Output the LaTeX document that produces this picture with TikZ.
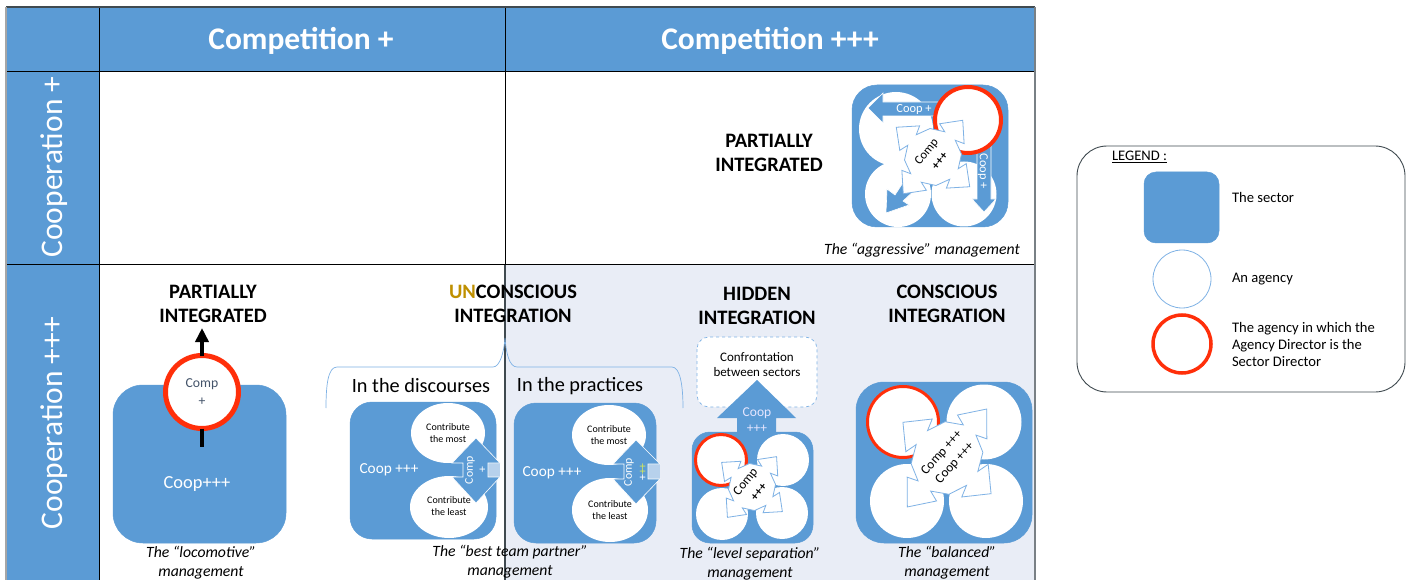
\documentclass[tikz,border=0pt]{standalone}
\usepackage{fontspec}
\setmainfont{Carlito}
\usetikzlibrary{arrows.meta}
\definecolor{secblue}{HTML}{5B9BD5}
\definecolor{lineblue}{HTML}{7FB2E5}
\definecolor{palefill}{HTML}{E9EDF6}
\definecolor{redring}{HTML}{FF2F0A}
\definecolor{darkline}{HTML}{404A50}
\definecolor{unGold}{HTML}{BF9000}
\definecolor{slate}{HTML}{44546A}
\definecolor{plusyellow}{HTML}{D6E85A}
\definecolor{notchfill}{HTML}{B7D1EC}
\tikzset{
  txt/.style={inner sep=0pt,outer sep=0pt,align=center},
  headtxt/.style={txt,font=\bfseries\fontsize{20.5}{22}\selectfont},
  captxt/.style={txt,font=\itshape\fontsize{15.7}{18}\selectfont},
  legtxt/.style={txt,anchor=west,font=\fontsize{14.6}{16}\selectfont},
  smalltxt/.style={txt,font=\fontsize{10}{12}\selectfont},
  whitetxt/.style={txt,text=white},
  sectorbox/.style={fill=secblue,draw=secblue,line width=.5pt},
  agency/.style={circle,fill=white,inner sep=0pt,outer sep=0pt},
  redagency/.style={circle,fill=white,draw=redring,inner sep=0pt,outer sep=0pt},
  flowarrow/.style={fill=secblue,draw=white,line width=.6pt,line join=miter},
  braceline/.style={draw=lineblue,line width=.7pt},
}
\newcommand{\quadcross}[4]{%
  \begin{scope}[shift={(#1,#2)},rotate=51,xscale=#3,yscale=#4]
    \draw[fill=white,draw=lineblue,line width=.8pt,line join=miter]
      (27,-27)--(36,-9)--(40,-21)--(63,0)--(40,21)--(36,9)--(27,27)--
      (9,36)--(21,40)--(0,63)--(-21,40)--(-9,36)--(-27,27)--
      (-36,9)--(-40,21)--(-63,0)--(-40,-21)--(-36,-9)--(-27,-27)--
      (-9,-36)--(-21,-40)--(0,-63)--(21,-40)--(9,-36)--cycle;
  \end{scope}}
\begin{document}
\begin{tikzpicture}[x=1pt,y=-1pt]
\useasboundingbox (0,0) rectangle (1409,580);
\fill[white] (0,0) rectangle (1409,580);
% table
\fill[secblue] (6,7) rectangle (1035,71);
\fill[secblue] (6,71) rectangle (99,580);
\fill[palefill] (505,264) rectangle (1035,580);
\draw[black,line width=.9pt] (99,7)--(99,580);
\draw[black,line width=.9pt] (505,7)--(505,264);
\draw[darkline,line width=1.1pt] (505,264)--(505,580);
\draw[black,line width=.9pt] (6,71)--(1035,71);
\draw[black,line width=.9pt] (6,264)--(1035,264);
\draw[darkline,line width=1.5pt] (6,7)--(1035,7);
\draw[darkline!70,line width=1.3pt] (1035,7)--(1035,580);
\draw[gray!70,line width=1.1pt] (6,7)--(6,580);
\node[whitetxt,font=\bfseries\fontsize{31.5}{36}\selectfont] (h1) at (301,41) {Competition +};
\node[whitetxt,font=\bfseries\fontsize{31.5}{36}\selectfont] (h2) at (770,41) {Competition +++};
\node[whitetxt,rotate=90,font=\fontsize{31.5}{36}\selectfont] (r1) at (54,167) {Cooperation +};
\node[whitetxt,rotate=90,font=\fontsize{31.5}{36}\selectfont] (r2) at (54,423) {Cooperation +++};
% aggressive
\node[headtxt] (t1) at (769,153) {PARTIALLY\\[2pt]INTEGRATED};
\draw[sectorbox,rounded corners=25pt] (852,85) rectangle (1008,227);
\node[agency,minimum size=74pt] (a1) at (896,129) {};
\node[agency,minimum size=66pt] (a2) at (898,194) {};
\node[agency,minimum size=65pt] (a3) at (964,194) {};
\draw[flowarrow] (868,108)--(883,93)--(883,102)--(945,102)--(945,116)--(883,116)--(883,123)--cycle;
\node[whitetxt,font=\fontsize{12.4}{14}\selectfont] (c1) at (914,109) {Coop +};
\draw[flowarrow] (984,212)--(972,199)--(977,199)--(977,145)--(991,145)--(991,199)--(996,199)--cycle;
\node[whitetxt,rotate=-90,font=\fontsize{12.4}{14}\selectfont] (c2) at (983,171) {Coop +};
\draw[flowarrow] (886,213)--(887,189)--(895,195)--(906,178)--(917,188)--(903,201)--(909,205)--cycle;
\node[redagency,line width=4pt,minimum size=66pt] (a4) at (968,120) {};
\quadcross{933}{157}{.75}{.75}
\node[txt,rotate=51,font=\fontsize{12.5}{13}\selectfont] (x1) at (927,152) {Comp};
\node[txt,rotate=51,font=\bfseries\fontsize{12}{13}\selectfont] (x2) at (940,161) {+++};
\node[captxt] (k1) at (922,250) {The “aggressive” management};
% locomotive
\node[headtxt] (t2) at (213,304) {PARTIALLY\\[2pt]INTEGRATED};
\draw[sectorbox,rounded corners=30pt] (113,385) rectangle (286,543);
\node[redagency,line width=5pt,minimum size=73pt] (loco) at (202,392) {};
\coordinate (locotip) at (202,328);
\coordinate (locolow) at (202,447);
\draw[line width=4pt,-{Triangle[length=14pt,width=13pt]}] (loco.north) -- (locotip);
\draw[line width=4pt] (loco.south) -- (locolow);
\node[txt,text=slate,font=\fontsize{13.7}{18}\selectfont] (l1) at (202,392) {Comp\\+};
\node[whitetxt,font=\fontsize{18.4}{20}\selectfont] (l2) at (197,484) {Coop+++};
\node[captxt] (k2) at (201,562.5) {The “locomotive”\\[1pt]management};
% unconscious
\node[headtxt] (t3) at (513,304) {\textcolor{unGold}{UN}CONSCIOUS\\[2pt]INTEGRATION};
\coordinate (bl) at (326,408);
\coordinate (bp) at (505,338);
\coordinate (br) at (683,408);
\draw[braceline] (bl) .. controls (326,385) and (328,367) .. (337,367) -- (493,367) .. controls (500,367) and (504,352) .. (bp)
  .. controls (506,352) and (509,367) .. (517,367) -- (672,367) .. controls (680,367) and (683,385) .. (br);
\node[txt,font=\fontsize{20.3}{22}\selectfont] (d1) at (421,386) {In the discourses};
\node[txt,font=\fontsize{20.3}{22}\selectfont] (d2) at (580,386) {In the practices};
% sector 1
\draw[sectorbox,rounded corners=22pt] (350,402) rectangle (496,539);
\draw[fill=white,draw=none] (448,433) ellipse (37 and 30);
\draw[fill=white,draw=none] (449,507) ellipse (39 and 31);
\node[smalltxt] (s1) at (448,433.5) {Contribute\\the most};
\node[smalltxt] (s2) at (449,506.5) {Contribute\\the least};
\fill[notchfill] (488,463) rectangle (500,477);
\draw[flowarrow] (476,438)--(500,463)--(488,463)--(488,477)--(500,477)--(476,503)--(452,477)--(463,477)--(463,463)--(452,463)--cycle;
\node[whitetxt,font=\fontsize{15.3}{18}\selectfont] (s3) at (389,470) {Coop +++};
\node[whitetxt,rotate=90,font=\fontsize{11.8}{13}\selectfont] (s4) at (470,470) {Comp};
\node[whitetxt,rotate=90,font=\fontsize{11.8}{13}\selectfont] (s5) at (483,470) {+};
% sector 2
\draw[sectorbox,rounded corners=22pt] (514,403) rectangle (656,543);
\draw[fill=white,draw=none] (609,435) ellipse (37 and 30);
\draw[fill=white,draw=none] (610,510) ellipse (38 and 32);
\node[smalltxt] (p1) at (609,435) {Contribute\\the most};
\node[smalltxt] (p2) at (610,510) {Contribute\\the least};
\fill[notchfill] (648,464) rectangle (660,479);
\draw[flowarrow] (636,440)--(660,464)--(648,464)--(648,479)--(660,479)--(636,504)--(613,479)--(624,479)--(624,464)--(613,464)--cycle;
\node[whitetxt,font=\fontsize{15.3}{18}\selectfont] (p3) at (552,473) {Coop +++};
\node[whitetxt,rotate=90,font=\fontsize{11.8}{13}\selectfont] (p4) at (629,472) {Comp};
\node[txt,rotate=90,font=\fontsize{11.8}{13}\selectfont] (p5) at (643,472) {\textcolor{white}{+}\textcolor{plusyellow}{++}};
\node[captxt] (k3) at (510,562) {The “best team partner”\\[1pt]management};
% hidden
\node[headtxt] (t4) at (757,305.5) {HIDDEN\\[2pt]INTEGRATION};
\draw[fill=white,draw=lineblue,dashed,line width=.7pt,rounded corners=12pt] (697,337) rectangle (817,407);
\node[txt,font=\fontsize{13}{15}\selectfont] (b1) at (757,364.5) {Confrontation\\between sectors};
\draw[fill=secblue,draw=none] (757,380)--(796,418)--(776,418)--(776,436)--(737,436)--(737,418)--(717,418)--cycle;
\draw[sectorbox,rounded corners=18pt] (692,432) rectangle (813,543);
\node[txt,text=blue!10!white,font=\fontsize{13.5}{16}\selectfont] (b2) at (757,420) {Coop\\+++};
\node[agency,minimum size=52pt] (h2a) at (783,460) {};
\node[agency,minimum size=52pt] (h3a) at (722,514) {};
\node[agency,minimum size=52pt] (h4a) at (782,513) {};
\node[redagency,line width=3pt,minimum size=51pt] (h1a) at (721,460) {};
\quadcross{752}{487}{.62}{.62}
\node[txt,rotate=51,font=\fontsize{13}{13}\selectfont] (x3) at (746,482) {Comp};
\node[txt,rotate=51,font=\bfseries\fontsize{12}{13}\selectfont] (x4) at (759,492) {+++};
\node[captxt] (k4) at (750,563.5) {The “level separation”\\[1pt]management};
% conscious
\node[headtxt] (t5) at (947,304) {CONSCIOUS\\[2pt]INTEGRATION};
\draw[sectorbox,rounded corners=28pt] (856,382) rectangle (1032,543);
\node[agency,minimum size=75pt] (c2a) at (984,422) {};
\node[agency,minimum size=74pt] (c3a) at (907,501) {};
\node[agency,minimum size=74pt] (c4a) at (986,501) {};
\node[redagency,line width=3pt,minimum size=71pt] (c1a) at (903,422) {};
\quadcross{947}{458}{1}{.9}
\node[txt,rotate=48,font=\fontsize{13.2}{14}\selectfont] (x5) at (942,453) {Comp +++};
\node[txt,rotate=48,font=\fontsize{13.2}{14}\selectfont] (x6) at (955,463) {Coop +++};
\node[captxt] (k5) at (947,562.5) {The “balanced”\\[1pt]management};
% legend
\draw[darkline,line width=.9pt,rounded corners=30pt] (1077,146) rectangle (1405,392);
\node[legtxt] (g0) at (1112,157) {\underline{LEGEND :}};
\draw[sectorbox,rounded corners=12pt] (1144,172) rectangle (1219,243);
\node[agency,draw=lineblue,line width=.8pt,minimum size=58pt] (g1) at (1182,279) {};
\node[redagency,line width=3.5pt,minimum size=58pt,fill=none] (g2) at (1182,344) {};
\node[legtxt] (g3) at (1232,197) {The sector};
\node[legtxt] (g4) at (1232,279) {An agency};
\node[legtxt,align=left,font=\fontsize{14.6}{17}\selectfont] (g5) at (1232,344) {The agency in which the\\Agency Director is the\\Sector Director};
\end{tikzpicture}
\end{document}
